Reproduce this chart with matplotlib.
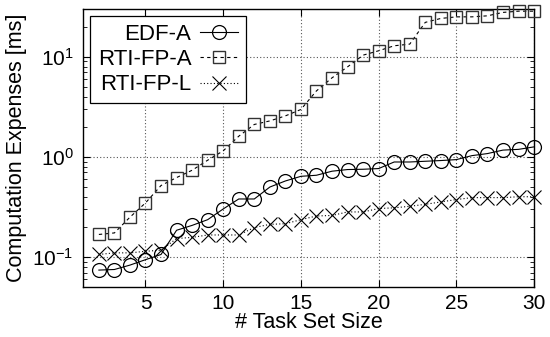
import matplotlib
matplotlib.use("Agg")
import matplotlib.pyplot as plt
from matplotlib.ticker import LogLocator, FixedLocator

plt.rcParams['font.family'] = ['Liberation Sans', 'DejaVu Sans']
plt.rcParams['axes.unicode_minus'] = False
plt.rcParams['mathtext.fontset'] = 'custom'
plt.rcParams['mathtext.rm'] = 'Liberation Sans'

# Task set sizes and measured computation expenses (ms)
task_set_size = list(range(2, 31))
edf_a = [0.074, 0.075, 0.083, 0.094, 0.106, 0.185, 0.207, 0.236, 0.302, 0.38,
         0.38, 0.50, 0.575, 0.64, 0.656, 0.72, 0.748, 0.753, 0.765, 0.89,
         0.89, 0.905, 0.92, 0.94, 1.03, 1.08, 1.17, 1.19, 1.26]
rti_fp_a = [0.168, 0.174, 0.25, 0.347, 0.518, 0.622, 0.736, 0.927, 1.15, 1.61,
            2.11, 2.29, 2.57, 2.98, 4.57, 6.17, 7.94, 10.4, 11.5, 12.9,
            13.4, 22.1, 24.2, 25.1, 25.1, 25.7, 27.8, 28.6, 28.6]
rti_fp_l = [0.106, 0.11, 0.11, 0.114, 0.117, 0.153, 0.157, 0.166, 0.166, 0.166,
            0.197, 0.212, 0.215, 0.236, 0.257, 0.26, 0.282, 0.282, 0.305, 0.31,
            0.321, 0.336, 0.355, 0.375, 0.392, 0.392, 0.392, 0.40, 0.40]
series_names = ["EDF-A", "RTI-FP-A", "RTI-FP-L"]
x_ticks = [5, 10, 15, 20, 25, 30]

fig = plt.figure(figsize=(5.5, 3.37), dpi=100)
ax = fig.add_axes([0.1515, 0.148, 0.8195, 0.825])

ax.plot(task_set_size, edf_a, color='black', lw=0.8, linestyle='-',
        marker='o', ms=10, mfc='none', mec='black', mew=0.9,
        label=series_names[0], clip_on=False, zorder=3)
ax.plot(task_set_size, rti_fp_a, color='black', lw=0.8, linestyle=(0, (3, 3)),
        marker='s', ms=8.5, mfc='none', mec='#333333', mew=1.0,
        label=series_names[1], clip_on=False, zorder=3)
ax.plot(task_set_size, rti_fp_l, color='black', lw=0.8, linestyle=(0, (1, 2)),
        marker='x', ms=9.5, mfc='none', mec='black', mew=0.8,
        label=series_names[2], clip_on=False, zorder=3)

ax.set_yscale('log')
ax.set_xlim(1, 30)
ax.set_ylim(0.05, 30)
ax.xaxis.set_major_locator(FixedLocator(x_ticks))
ax.yaxis.set_major_locator(LogLocator(base=10, numticks=10))
ax.yaxis.set_minor_locator(LogLocator(base=10, subs=range(2, 10), numticks=10))

ax.tick_params(which='both', direction='in', top=True, right=True,
               labelsize=15, color='black')
ax.tick_params(which='major', length=5, width=0.8)
ax.tick_params(axis='x', which='major', pad=5)
ax.tick_params(axis='y', which='major', pad=7)
ax.tick_params(which='minor', length=3, width=0.6)
ax.tick_params(axis='x', which='minor', top=False, bottom=False)

ax.grid(True, which='major', linestyle=(0, (1, 2)), color='#555555', lw=0.8)

for sp in ax.spines.values():
    sp.set_linewidth(1.0)
    sp.set_color('black')

ax.set_xlabel("# Task Set Size", fontsize=15.5, labelpad=-1)
ax.set_ylabel("Computation Expenses [ms]", fontsize=15.5, labelpad=4)

leg = ax.legend(loc='upper left', markerfirst=False, fontsize=16,
                fancybox=False, frameon=True, framealpha=1, edgecolor='black',
                borderaxespad=0.3, handlelength=1.7, handletextpad=0.4,
                labelspacing=0.2, borderpad=0.35)
leg.get_frame().set_linewidth(0.9)
leg.set_zorder(5)

fig.savefig("out.png", dpi=100)
